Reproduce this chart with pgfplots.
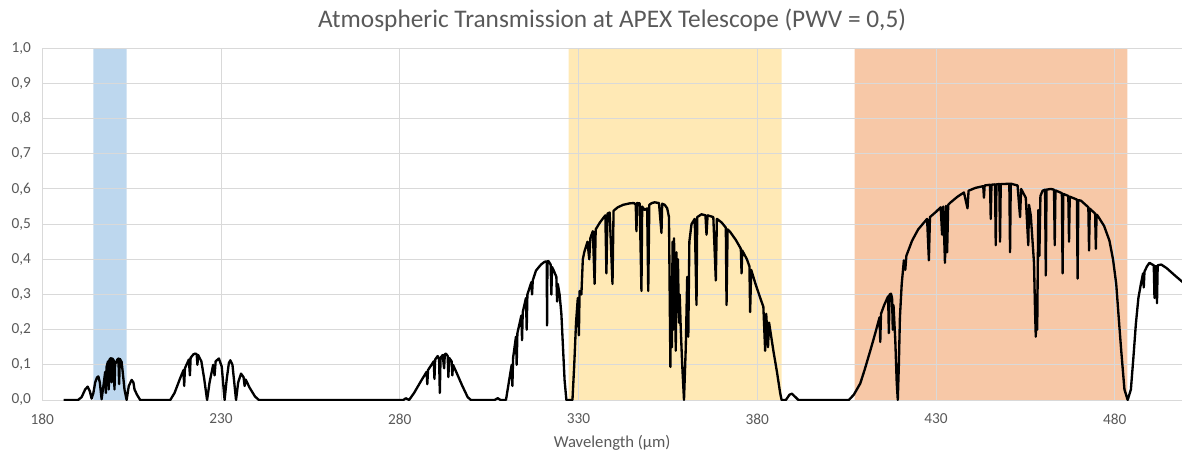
\documentclass[border=0pt]{standalone}
\usepackage{fontspec}
\setmainfont{Carlito}
\usepackage{pgfplots}
\pgfplotsset{compat=1.18}

\definecolor{txtgray}{HTML}{595959}
\definecolor{gridgray}{HTML}{D9D9D9}
\definecolor{bandblue}{HTML}{BDD7EE}
\definecolor{bandyellow}{HTML}{FFE9B5}
\definecolor{bandorange}{HTML}{F7C8A7}

\begin{document}
\begin{tikzpicture}
\begin{axis}[
  set layers,
  scale only axis,
  width=854.8pt, height=263.8pt,
  xmin=180, xmax=498.8,
  ymin=0, ymax=1,
  xtick={180,230,...,480},
  ytick={0,0.1,...,1.0},
  grid=major,
  major grid style={gridgray, line width=0.75pt},
  axis line style={draw=none},
  major tick length=0pt,
  tick label style={font=\fontsize{11.5}{13}\selectfont, text=txtgray},
  /pgf/number format/assume math mode=true,
  yticklabel={\pgfmathprintnumber[fixed, fixed zerofill, precision=1, use comma]{\tick}},
  xticklabel={\pgfmathprintnumber[fixed, precision=0]{\tick}},
  yticklabel style={xshift=-5pt},
  xticklabel style={yshift=-7pt},
  xlabel={Wavelength (µm)},
  xlabel style={font=\fontsize{12.5}{14}\selectfont, text=txtgray, yshift=-1pt},
  title={Atmospheric Transmission at APEX Telescope (PWV = 0,5)},
  title style={font=\fontsize{19}{21}\selectfont, text=txtgray, yshift=3pt},
]
% observing bands
\addplot[draw=none, fill=bandblue, on layer=axis background] coordinates {(194.3,0)(194.3,1)(203.6,1)(203.6,0)} \closedcycle;
\addplot[draw=none, fill=bandyellow, on layer=axis background] coordinates {(327.2,0)(327.2,1)(386.8,1)(386.8,0)} \closedcycle;
\addplot[draw=none, fill=bandorange, on layer=axis background] coordinates {(407.2,0)(407.2,1)(483.5,1)(483.5,0)} \closedcycle;

% transmission
\addplot[black, line width=1.75pt, line join=round, mark=none] coordinates {
(186,0)(190,0)(191,0.008)(192,0.03)(192.7,0.038)(193.3,0.025)(193.8,0.004)(194.3,0.02)(194.8,0.05)(195.3,0.064)(195.7,0.067)(196.1,0.05)(196.6,0.002)
(197.1,0.04)(197.6,0.08)(197.8,0.02)(198.0,0.095)(198.4,0.11)(198.6,0.03)(198.8,0.115)(199.2,0.119)(199.4,0.05)(199.6,0.118)(200.0,0.112)(200.2,0.03)
(200.4,0.108)(200.6,0.105)(201.0,0.115)(201.3,0.118)(201.5,0.045)(201.7,0.117)(202.2,0.108)(202.5,0.08)(203.0,0.03)(203.6,0.0)(204.2,0.04)(205,0.057)
(205.5,0.05)(205.8,0.03)(206.5,0.015)(207.4,0)
(215.8,0)(217,0.02)(218.5,0.06)(219.5,0.085)(219.7,0.04)(219.9,0.09)(221,0.115)(221.3,0.07)(221.5,0.12)(222.3,0.13)(222.8,0.132)(223.2,0.13)(223.4,0.1)
(223.6,0.128)(224.5,0.11)(225.3,0.06)(226.1,0.0)(226.8,0.05)(227.8,0.1)(228.2,0.07)(228.5,0.11)(229.4,0.118)(230.2,0.095)(231,0.0)(231.6,0.06)
(232.2,0.105)(232.6,0.113)(233.2,0.1)(233.6,0.06)(234.2,0.0)(234.8,0.05)(235.6,0.075)(236.3,0.065)(236.6,0.04)(236.9,0.058)(238,0.035)(239.5,0.01)
(240.6,0)(280,0)(281,0)(281.7,0.005)(282.6,0)
(284,0.02)(286,0.055)(287.5,0.08)(287.7,0.045)(287.9,0.085)(289.5,0.11)(289.7,0.06)(289.9,0.115)(290.6,0.125)(291,0.115)(291.2,0.02)(291.4,0.12)
(292,0.128)(292.4,0.09)(292.6,0.13)(292.9,0.132)(293.4,0.125)(293.6,0.065)(293.8,0.12)(294.5,0.11)(294.7,0.07)(294.9,0.1)(296,0.075)(297.5,0.04)
(299,0.008)(299.9,0)(306.5,0)(307.4,0.005)(308.2,0)(309.7,0)
(310.5,0.05)(311.3,0.1)(311.5,0.04)(311.7,0.12)(312.5,0.18)(312.7,0.1)(312.9,0.19)(314,0.24)(314.2,0.17)(314.4,0.25)(315.3,0.29)(315.5,0.2)(315.7,0.3)
(316.8,0.335)(317,0.3)(317.2,0.34)(318.1,0.368)(319.5,0.385)(320.5,0.393)(321.1,0.394)(321.2,0.212)(321.3,0.394)(321.6,0.395)(322.2,0.385)(322.4,0.3)
(322.6,0.378)(323.2,0.365)(323.8,0.35)(324,0.28)(324.2,0.33)(324.7,0.3)(325.2,0.245)(325.7,0.14)(326.1,0.056)(326.6,0)(328,0)
(328.3,0)(328.8,0.1)(329.3,0.22)(329.8,0.29)(330.1,0.184)(330.3,0.31)(330.8,0.3)(331.2,0.40)(331.6,0.42)(332.5,0.45)(333,0.4)(333.3,0.46)(334,0.48)
(334.5,0.33)(334.8,0.485)(336,0.505)(337.5,0.525)(337.8,0.36)(338.1,0.53)(338.7,0.533)(339.5,0.33)(339.8,0.538)(341,0.548)(342.5,0.555)(344.3,0.559)
(345.5,0.56)(346,0.555)(346.2,0.48)(346.4,0.56)(347.1,0.559)(347.6,0.31)(347.8,0.55)(348.5,0.54)(349.2,0.545)(349.5,0.31)(349.8,0.555)(350.5,0.56)
(351.3,0.562)(352.5,0.56)(353.2,0.475)(353.4,0.558)(354.1,0.555)(354.8,0.545)(355.3,0.52)(355.5,0.3)(355.7,0.094)(355.9,0.35)(356.1,0.15)(356.3,0.45)
(356.5,0.2)(356.7,0.46)(357,0.3)(357.2,0.14)(357.4,0.42)(357.6,0.25)(357.8,0.4)(358.1,0.22)(358.3,0.3)(358.6,0.2)(359,0.1)(359.5,0)(360,0.15)
(360.4,0.35)(360.7,0.18)(361,0.45)(361.6,0.5)(362.5,0.515)(363,0.27)(363.2,0.52)(364.4,0.528)(365.5,0.525)(365.8,0.47)(366.1,0.525)(367.7,0.52)
(368.4,0.34)(368.7,0.515)(370,0.505)(371.2,0.49)(371.4,0.27)(371.7,0.485)(372.4,0.478)(374,0.455)(375.4,0.43)(375.6,0.36)(375.8,0.425)(377.1,0.4)
(377.8,0.38)(378,0.25)(378.3,0.37)(379.5,0.33)(381,0.285)(381.7,0.265)(382.2,0.14)(382.5,0.245)(383,0.15)(383.3,0.22)(384.5,0.14)(385.5,0.08)
(386.4,0.02)(386.8,0)(388,0)(389,0.015)(389.7,0.018)(390.5,0.01)(391.5,0)
(405.6,0)(407,0.015)(408.8,0.047)(410,0.085)(411.6,0.14)(413,0.19)(414.2,0.235)(414.4,0.165)(414.6,0.245)(415.5,0.27)(416.6,0.295)(416.8,0.19)
(417,0.3)(417.4,0.302)(417.7,0.29)(417.9,0.2)(418.1,0.27)(418.6,0.17)(419,0.05)(419.3,0)(419.6,0.1)(419.9,0.236)(420.4,0.33)(421,0.397)(421.4,0.37)
(421.7,0.41)(423.3,0.453)(425,0.485)(427.5,0.515)(428,0.397)(428.3,0.52)(430,0.535)(431.3,0.548)(431.7,0.47)(432,0.55)(432.5,0.39)(432.8,0.552)
(433.1,0.42)(433.4,0.555)(434.1,0.562)(436,0.578)(437.8,0.59)(438.8,0.545)(439.1,0.595)(441,0.603)(443.2,0.608)(443.4,0.575)(443.6,0.61)(445.1,0.612)
(445.3,0.515)(445.5,0.612)(446.5,0.613)(446.7,0.44)(446.9,0.613)(447.7,0.614)(447.9,0.45)(448.1,0.614)(449,0.614)(450.5,0.615)(450.7,0.42)(450.9,0.615)
(452.8,0.61)(453.5,0.52)(453.8,0.6)(455.1,0.575)(455.8,0.44)(456,0.555)(456.5,0.525)(457.4,0.39)(457.7,0.25)(457.9,0.18)(458.1,0.3)(458.3,0.2)
(458.6,0.54)(458.9,0.41)(459.2,0.58)(459.8,0.595)(460.5,0.598)(460.7,0.354)(460.9,0.598)(462.1,0.6)(463,0.598)(463.2,0.44)(463.4,0.596)(465.2,0.588)
(465.4,0.36)(465.6,0.586)(467.0,0.58)(467.2,0.45)(467.4,0.578)(469.4,0.57)(469.6,0.345)(469.8,0.568)(470.5,0.567)(472.6,0.548)(472.8,0.425)(473,0.544)
(474.5,0.53)(474.7,0.43)(474.9,0.527)(475.2,0.524)(477,0.495)(478.5,0.453)(479.5,0.4)(480.4,0.33)(481.2,0.22)(481.8,0.14)(482.7,0.03)(483.6,0)
(484.5,0.03)(485.2,0.12)(485.9,0.217)(486.6,0.29)(487.3,0.33)(487.9,0.36)(488.1,0.32)(488.3,0.365)(489,0.38)(489.7,0.39)(490.5,0.385)(490.9,0.383)
(491.1,0.29)(491.3,0.38)(491.6,0.38)(491.8,0.275)(492.0,0.383)(493,0.385)(494.5,0.375)(496.7,0.355)(499,0.335)
};
\end{axis}
\pgfresetboundingbox
\path ([shift={(-31.7pt,-40.5pt)}]current axis.south west) rectangle ([shift={(0pt,36.2pt)}]current axis.north east);
\end{tikzpicture}
\end{document}
